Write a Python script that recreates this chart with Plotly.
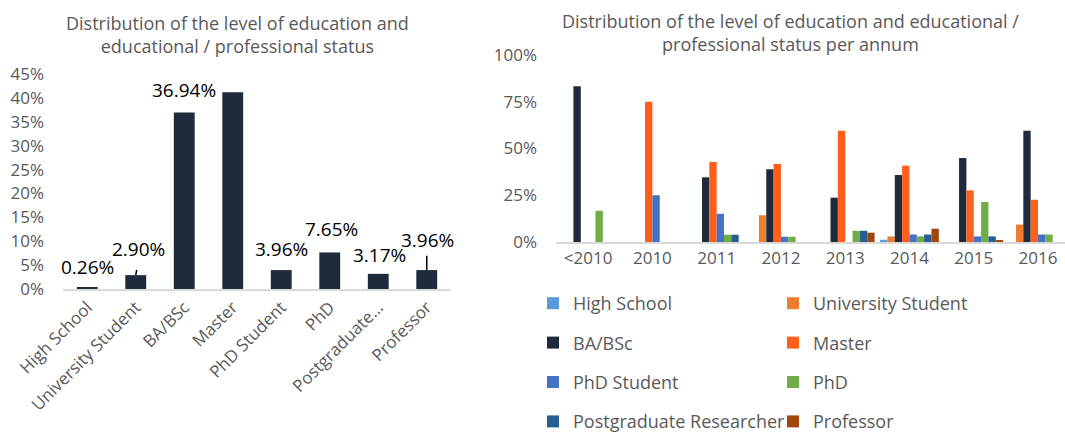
import plotly.graph_objects as go

# ---------------- data ----------------
levels = ["High School", "University Student", "BA/BSc", "Master",
          "PhD Student", "PhD", "Postgraduate Researcher", "Professor"]
level_ticks = ["High School", "University Student", "BA/BSc", "Master",
               "PhD Student", "PhD", "Postgraduate...", "Professor"]
share = [0.26, 2.90, 36.94, 41.16, 3.96, 7.65, 3.17, 3.96]

years = ["<2010", "2010", "2011", "2012", "2013", "2014", "2015", "2016"]
high_school = [None, None, None, None, None, 1.2, None, None]
uni_student = [None, None, None, 14.3, None, 3.0, None, 9.3]
ba_bsc = [83.3, None, 34.6, 38.9, 23.7, 35.8, 44.9, 59.5]
master = [None, 75.0, 42.8, 41.7, 59.5, 40.8, 27.6, 22.6]
phd_student = [None, 25.0, 15.1, 2.8, None, 4.0, 3.0, 4.0]
phd = [16.7, None, 3.9, 2.8, 6.0, 3.0, 21.4, 4.0]
pg_researcher = [None, None, 3.9, None, 6.0, 4.0, 3.0, None]
professor = [None, None, None, None, 5.0, 7.1, 1.0, None]
yearly = [high_school, uni_student, ba_bsc, master, phd_student, phd, pg_researcher, professor]

# ---------------- styles ----------------
W, H = 1065, 434
FONT = "Open Sans"
GREY = "#595959"
NAVY = "#1F2A3C"
series_colors = ["#5B9BD5", "#ED7D31", "#1F2A3C", "#FF5F1A",
                 "#4472C4", "#70AD47", "#255E91", "#9E480E"]
# label offsets (in axis % units) and x-shifts (category units) mimicking the manual label placement
label_dy = [4.3, 5.5, 4.7, 4.4, 4.4, 5.0, 3.9, 6.3]
label_dx = [0.0, 0.05, 0.0, 0.0, 0.0, 0.03, 0.02, 0.01]

def px_x(p):
    return p / W

def px_y(p):
    return 1 - p / H

fig = go.Figure()

# left chart
fig.add_trace(go.Bar(
    x=list(range(len(levels))), y=share, width=0.43,
    marker=dict(color=NAVY, line=dict(width=0)),
    xaxis="x", yaxis="y", showlegend=False, name="Share",
))

# right chart
for i, (name, vals) in enumerate(zip(levels, yearly)):
    fig.add_trace(go.Bar(
        x=years, y=vals, name=name,
        marker=dict(color=series_colors[i], line=dict(width=0)),
        xaxis="x2", yaxis="y2",
        legend="legend" if i % 2 == 0 else "legend2",
        legendgroup=name,
    ))

annotations = []
for i, v in enumerate(share):
    annotations.append(dict(
        x=i + label_dx[i], y=v + label_dy[i], xref="x", yref="y",
        text=f"{v:.2f}%", showarrow=False,
        font=dict(family=FONT, size=19, color="#000000"),
    ))

# titles
annotations.append(dict(
    x=px_x(237), y=px_y(34.5), xref="paper", yref="paper", xanchor="center", yanchor="middle",
    text="Distribution of the level of education and<br>educational / professional status",
    showarrow=False, font=dict(family=FONT, size=18, color=GREY),
    align="center",
))
annotations.append(dict(
    x=px_x(790), y=px_y(32.5), xref="paper", yref="paper", xanchor="center", yanchor="middle",
    text="Distribution of the level of education and educational /<br>professional status per annum",
    showarrow=False, font=dict(family=FONT, size=18, color=GREY),
    align="center",
))

# leader lines for two labels
shapes = [
    dict(type="line", xref="x", yref="y", x0=1.0, x1=1.02, y0=share[1], y1=share[1] + 1.1,
         line=dict(color="#000000", width=1.5)),
    dict(type="line", xref="x", yref="y", x0=7.0, x1=7.0, y0=share[7], y1=share[7] + 3.0,
         line=dict(color="#000000", width=1.5)),
]

axis_font = dict(family=FONT, size=17, color=GREY)
legend_font = dict(family=FONT, size=18, color=GREY)

fig.update_layout(
    width=W, height=H,
    margin=dict(l=0, r=0, t=0, b=0, autoexpand=False),
    paper_bgcolor="white", plot_bgcolor="white",
    bargap=0.086, bargroupgap=0, barmode="group",
    font=dict(family=FONT, color=GREY),
    xaxis=dict(domain=[px_x(63), px_x(451)], range=[-0.5, 7.5], automargin=False,
               tickmode="array", tickvals=list(range(len(levels))), ticktext=level_ticks,
               tickangle=-45, tickfont=axis_font, showline=True, linecolor="#D9D9D9",
               linewidth=1.5, showgrid=False, zeroline=False, ticks="", anchor="y"),
    yaxis=dict(domain=[px_y(289), px_y(74)], range=[0, 45], dtick=5, ticksuffix="%",
               tickfont=axis_font, showgrid=False, zeroline=False, showline=False,
               automargin=False, ticks="", ticklabelstandoff=18, anchor="x"),
    xaxis2=dict(domain=[px_x(556), 1.0], range=[-0.5, 7.42], type="category",
                tickfont=axis_font, showline=True, linecolor="#D9D9D9", linewidth=1.5,
                automargin=False, showgrid=False, zeroline=False, ticks="", anchor="y2"),
    yaxis2=dict(domain=[px_y(242), px_y(55)], range=[0, 100], dtick=25, ticksuffix="%",
                tickfont=axis_font, showgrid=False, zeroline=False, showline=False,
                automargin=False, ticks="", ticklabelstandoff=18, anchor="x2"),
    legend=dict(x=px_x(533), y=px_y(285), xanchor="left", yanchor="top",
                orientation="v", tracegroupgap=13, font=legend_font,
                bgcolor="rgba(0,0,0,0)", itemclick=False),
    legend2=dict(x=px_x(773), y=px_y(285), xanchor="left", yanchor="top",
                 orientation="v", tracegroupgap=13, font=legend_font,
                 bgcolor="rgba(0,0,0,0)", itemclick=False),
    annotations=annotations,
    shapes=shapes,
)

fig.write_html("out.html", config={"displayModeBar": False},
               post_script="document.body.style.margin='0';document.body.style.overflow='hidden';")
